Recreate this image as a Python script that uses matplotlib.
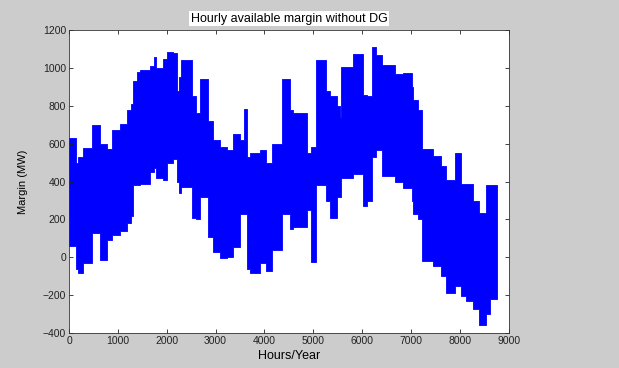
import matplotlib
matplotlib.use('agg')
import matplotlib.pyplot as plt
import numpy as np

# hourly margin envelope (hours, upper/lower MW per span)
hours = [0, 150, 190, 290, 480, 640, 770, 870, 1040, 1180, 1260, 1315, 1400,
         1450, 1660, 1740, 1790, 1930, 2000, 2130, 2200, 2260, 2300, 2510,
         2600, 2680, 2850, 2950, 3090, 3225, 3360, 3500, 3590, 3640, 3700,
         3900, 4040, 4150, 4350, 4520, 4590, 4860, 4960, 5050, 5250, 5340,
         5475, 5540, 5570, 5820, 6020, 6090, 6190, 6290, 6400, 6670, 6840,
         7010, 7040, 7150, 7215, 7450, 7620, 7720, 7900, 8030, 8130, 8270,
         8400, 8540, 8610, 8760]
upper = [630, 500, 530, 580, 700, 600, 570, 670, 705, 780, 810, 930, 980,
         990, 1010, 1060, 1000, 1050, 1085, 1080, 880, 950, 1040, 850,
         760, 940, 720, 620, 585, 565, 650, 620, 785, 530, 550,
         565, 500, 600, 940, 780, 760, 550, 585, 1040, 880, 850,
         800, 740, 1005, 1075, 860, 850, 1110, 1070, 1015, 970, 975,
         900, 830, 780, 570, 535, 480, 410, 550, 390, 390, 300,
         235, 380, 380, 380]
lower = [60, -60, -85, -30, 130, -15, 90, 120, 140, 180, 220, 380, 380,
         390, 450, 470, 420, 410, 500, 520, 400, 340, 370, 210,
         200, 320, 110, 30, -5, 0, 55, 230, 230, -60, -85,
         -30, -70, 40, 230, 150, 160, 250, -25, 380, 300, 210,
         320, 320, 420, 440, 270, 300, 530, 565, 430, 400, 365,
         300, 230, 200, -20, -45, -100, -190, -150, -205, -230, -275,
         -360, -300, -220, -220]

plt.rcParams['font.family'] = ['Liberation Sans', 'DejaVu Sans']

fig = plt.figure(figsize=(6.19, 3.68), dpi=100, facecolor='#cccccc')
ax = fig.add_axes([0.1115, 0.095, 0.7105, 0.823])
ax.fill_between(hours, lower, upper, step='post', color='#0000ff',
                edgecolor='#0000ff', linewidth=0.6)

ax.set_xlim(0, 9000)
ax.set_ylim(-400, 1200)
ax.set_xticks(np.arange(0, 9001, 1000))
ax.set_yticks(np.arange(-400, 1201, 200))
ax.tick_params(direction='in', top=True, right=True, labelsize=7.5,
               length=3, width=0.6, colors='#222222', pad=2)
for s in ax.spines.values():
    s.set_linewidth(0.6)
    s.set_color('#333333')

ax.set_title('Hourly available margin without DG', fontsize=9, pad=6,
             bbox=dict(facecolor='white', edgecolor='none', pad=1))
ax.set_xlabel('Hours/Year', fontsize=9, labelpad=3)
ax.set_ylabel('Margin (MW)', fontsize=8, labelpad=11)

fig.savefig('out.png', dpi=100, facecolor=fig.get_facecolor())
